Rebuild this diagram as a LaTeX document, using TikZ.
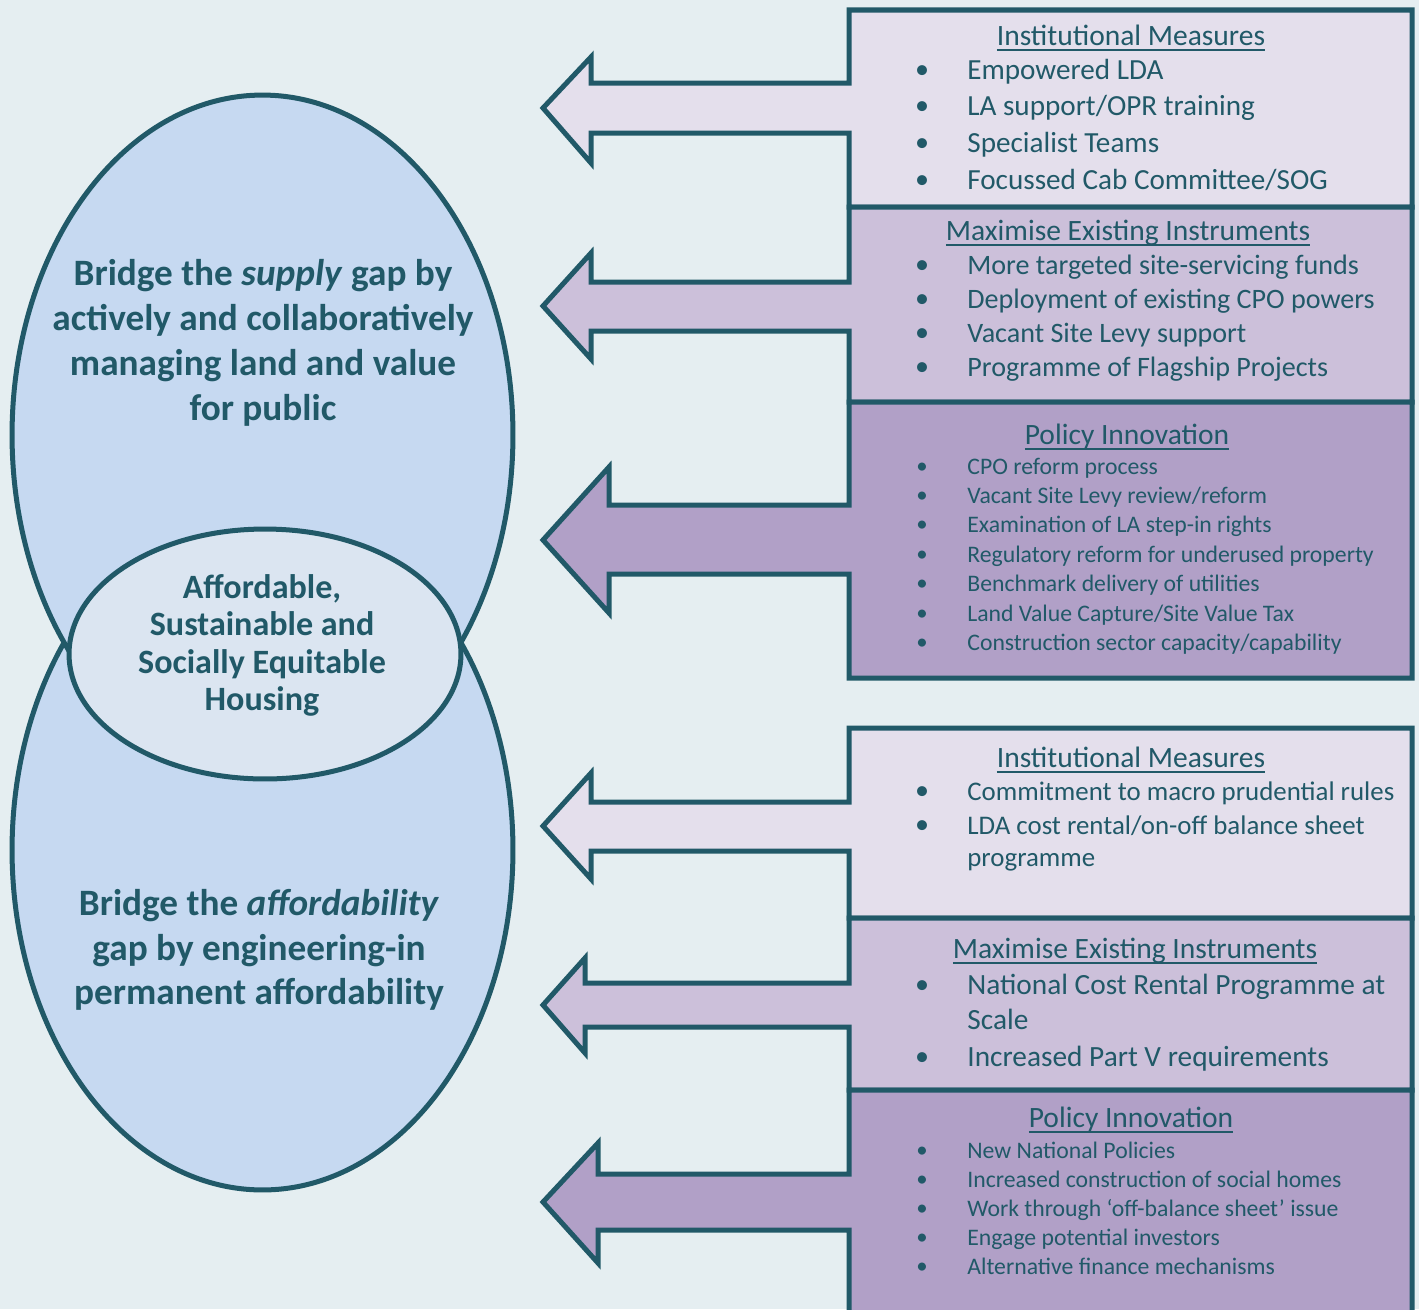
\documentclass[tikz,border=0pt]{standalone}
\usepackage{fontspec}
\setmainfont{Carlito}
\usetikzlibrary{shapes.geometric}
\definecolor{teal5}{HTML}{215968}
\definecolor{paper}{HTML}{E5EEF1}
\definecolor{oval}{HTML}{C6D9F1}
\definecolor{ovalcore}{HTML}{DBE5F1}
\definecolor{lilac1}{HTML}{E4DFEC}
\definecolor{lilac2}{HTML}{CCC0DA}
\definecolor{lilac3}{HTML}{B1A0C7}
\tikzset{panel/.style={draw=teal5, line width=2.85pt},
	bigoval/.style={ellipse, draw=teal5, line width=2.85pt, fill=oval, inner sep=0pt,
		minimum width=10.02cm, minimum height=13.6cm},
	coreoval/.style={ellipse, draw=teal5, line width=2.85pt, fill=ovalcore, inner sep=0pt,
		minimum width=7.84cm, minimum height=5cm},
	ovaltext/.style={text=teal5, align=center, font=\fontsize{21.2}{25.5}\selectfont\bfseries},
	coretext/.style={text=teal5, align=center, font=\fontsize{19.4}{21.2}\selectfont\bfseries},
	panelhead/.style={text=teal5, inner sep=0pt, anchor=base, yshift=-0.18cm,
		font=\fontsize{16.8}{20}\selectfont},
	bigitem/.style={text=teal5, anchor=base west, inner sep=0pt, yshift=-0.18cm,
		font=\fontsize{16}{20}\selectfont},
	smallitem/.style={bigitem, yshift=0.03cm, font=\fontsize{13.5}{16}\selectfont},
	dot/.style={text=teal5, inner sep=0pt, anchor=base, yshift=-0.16cm, font=\fontsize{16}{20}\selectfont},
	smalldot/.style={dot, yshift=0.03cm, font=\fontsize{13}{16}\selectfont}}
% box with block arrow: top, bottom, shaft top, shaft bottom, head x, head top, head bottom, tip y, fill
\newcommand\measurepanel[9]{%
	\draw[panel, fill=#9] (849,#1) -- (1412,#1) -- (1412,#2) -- (849,#2) -- (849,#4)
		-- (#5,#4) -- (#5,#7) -- (543,#8) -- (#5,#6) -- (#5,#3) -- (849,#3) -- cycle;}
\newcommand\headrule[1]{\setbox0=\hbox{#1}\rlap{\raisebox{-3.4pt}{\rule{\wd0}{1pt}}}\box0}

\begin{document}
\begin{tikzpicture}[x=0.02cm, y=-0.02cm]
	\useasboundingbox (0,0) rectangle (1419,1309);
	\clip (0,0) rectangle (1419,1309);
	\fill[paper] (0,0) rectangle (1419,1309);

	% the two goals and the core
	\node[bigoval] (affordoval) at (262.5,850) {};
	\node[bigoval] (supplyoval) at (262.5,435) {};
	\node[coreoval] (core) at (265,654) {};
	\node[ovaltext] (supplytxt) at (263,343) {Bridge the \textit{supply} gap by\\actively and collaboratively\\managing land and value\\for public};
	\node[ovaltext] (affordtxt) at (259,950) {Bridge the \textit{affordability}\\gap by engineering-in\\permanent affordability};
	\node[coretext] (coretxt) at (262,645.5) {Affordable,\\Sustainable and\\Socially Equitable\\Housing};

	% supply side
	\measurepanel{10}{207}{83}{133}{591}{57}{163}{108}{lilac1}
	\measurepanel{207}{402}{282}{331}{591}{253}{359}{306}{lilac2}
	\measurepanel{402}{678}{505}{574}{609}{467}{613}{540}{lilac3}
	\node[panelhead] (inst1) at (1131,36) {\headrule{Institutional Measures}};
	\foreach \y/\t [count=\i] in {70/Empowered LDA, 106/{LA support/OPR training},
		143/Specialist Teams, 180/{Focussed Cab Committee/SOG}}{
		\node[dot] (inst1d\i) at (922,\y) {\textbullet};
		\node[bigitem, font=\fontsize{16.6}{20}\selectfont] (inst1i\i) at (967,\y) {\t};}
	\node[panelhead] (maxi1) at (1128,231) {\headrule{Maximise Existing Instruments}};
	\foreach \y/\t [count=\i] in {265/More targeted site-servicing funds, 299/Deployment of existing CPO powers,
		333/Vacant Site Levy support, 367/Programme of Flagship Projects}{
		\node[dot] (maxi1d\i) at (922,\y) {\textbullet};
		\node[bigitem] (maxi1i\i) at (967,\y) {\t};}
	\node[panelhead] (poli1) at (1127,435) {\headrule{Policy Innovation}};
	\foreach \y/\t [count=\i] in {467/CPO reform process, 496/{Vacant Site Levy review/reform},
		525/Examination of LA step-in rights, 555/Regulatory reform for underused property,
		584/Benchmark delivery of utilities, 614/{Land Value Capture/Site Value Tax},
		643/{Construction sector capacity/capability}}{
		\node[smalldot] (poli1d\i) at (922,\y) {\textbullet};
		\node[smallitem] (poli1i\i) at (967,\y) {\t};}

	% affordability side
	\measurepanel{728}{918}{802}{851}{591}{773}{879}{826}{lilac1}
	\measurepanel{918}{1090}{983}{1027}{585}{958}{1053}{1005}{lilac2}
	\measurepanel{1090}{1330}{1174}{1230}{598}{1143}{1263}{1202}{lilac3}
	\node[panelhead] (inst2) at (1131,758) {\headrule{Institutional Measures}};
	\foreach \y/\b/\t [count=\i] in {791/\textbullet/Commitment to macro prudential rules,
		825/\textbullet/{LDA cost rental/on-off balance sheet}, 857//programme}{
		\node[dot] (inst2d\i) at (922,\y) {\b};
		\node[bigitem, font=\fontsize{15.3}{20}\selectfont] (inst2i\i) at (967,\y) {\t};}
	\node[panelhead] (maxi2) at (1135,949) {\headrule{Maximise Existing Instruments}};
	\foreach \y/\b/\t [count=\i] in {985/\textbullet/National Cost Rental Programme at,
		1020//Scale, 1057/\textbullet/Increased Part V requirements}{
		\node[dot] (maxi2d\i) at (922,\y) {\b};
		\node[bigitem, font=\fontsize{16.7}{20}\selectfont] (maxi2i\i) at (967,\y) {\t};}
	\node[panelhead] (poli2) at (1131,1118) {\headrule{Policy Innovation}};
	\foreach \y/\t [count=\i] in {1151/New National Policies, 1180/Increased construction of social homes,
		1209/Work through ‘off-balance sheet’ issue, 1238/Engage potential investors,
		1267/Alternative finance mechanisms}{
		\node[smalldot] (poli2d\i) at (922,\y) {\textbullet};
		\node[smallitem] (poli2i\i) at (967,\y) {\t};}
\end{tikzpicture}
\end{document}
